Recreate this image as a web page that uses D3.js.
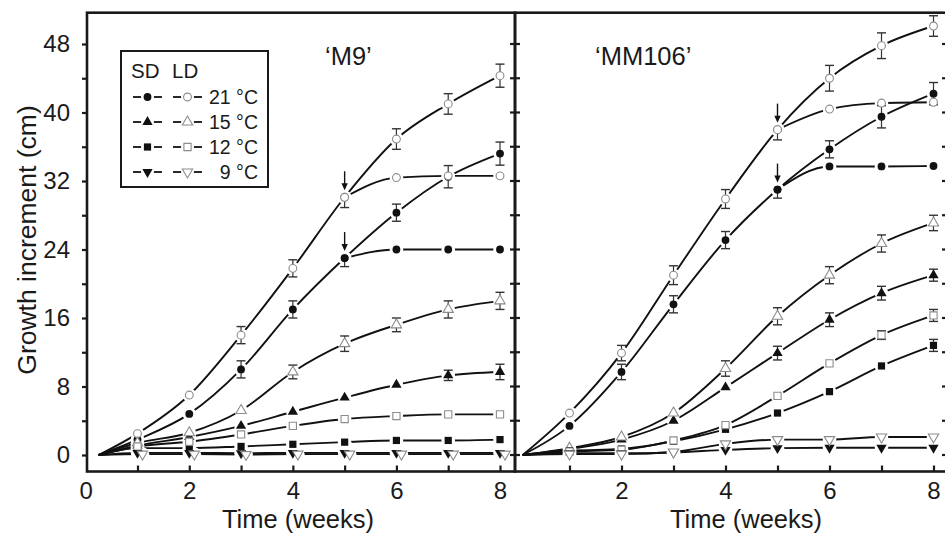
<!DOCTYPE html>
<html>
<head>
<meta charset="utf-8">
<script src="https://cdn.jsdelivr.net/npm/d3@7"></script>
<style>
body { margin: 0; background: #fff; }
svg { display: block; }
text { font-family: "Liberation Sans", Arial, Helvetica, sans-serif; fill: #1a1a1a; }
</style>
</head>
<body>
<script>
// ---- data ----
var weeks = [1, 2, 3, 4, 5, 6, 7, 8];
var transferWeeks = [5, 6, 7, 8];
var startWeeks = [0.25, 0.1];          // curves start near 0 in each panel
var yTicks = [0, 4, 8, 12, 16, 20, 24, 28, 32, 36, 40, 44, 48];
var yTickLabels = [0, 8, 16, 24, 32, 40, 48];
var xTickLabelsLeft = [0, 2, 4, 6, 8];
var xTickLabelsRight = [2, 4, 6, 8];
var temps = ["21 °C", "15 °C", "12 °C", "9 °C"];
var cultivars = ["\u2018M9\u2019", "\u2018MM106\u2019"];

// 'M9'
var m9_SD21 = [1.8, 4.8, 10.0, 17.0, 23.0, 28.3, 32.5, 35.2];
var m9_LD21 = [2.5, 7.0, 14.0, 21.8, 30.1, 36.9, 41.0, 44.3];
var m9_SD15 = [1.1, 2.1, 3.4, 5.05, 6.7, 8.2, 9.3, 9.7];
var m9_LD15 = [1.4, 2.6, 5.2, 9.7, 13.0, 15.2, 17.0, 18.0];
var m9_SD12 = [0.8, 0.8, 1.0, 1.25, 1.5, 1.7, 1.7, 1.8];
var m9_LD12 = [1.0, 1.55, 2.4, 3.4, 4.2, 4.55, 4.75, 4.75];
var m9_SD9 = [0.25, 0.25, 0.2, 0.25, 0.25, 0.25, 0.25, 0.25];
var m9_LD9 = [0.1, 0.1, 0.05, 0.1, 0.1, 0.1, 0.1, 0.1];
var m9_SD21_err = [0, 0, 1.0, 1.0, 1.0, 1.0, 1.3, 1.35];
var m9_LD21_err = [0, 0, 1.0, 1.0, 1.2, 1.2, 1.2, 1.35];
var m9_SD15_err = [0, 0, 0, 0, 0, 0, 0.6, 0.9];
var m9_LD15_err = [0, 0, 0, 0.8, 0.9, 0.8, 1.0, 1.0];
var m9_SD21_transfer = [23.0, 24.0, 24.0, 24.0];
var m9_LD21_transfer = [30.1, 32.4, 32.6, 32.6];

// 'MM106'
var mm106_SD21 = [3.4, 9.7, 17.6, 25.1, 31.0, 35.7, 39.5, 42.2];
var mm106_LD21 = [4.9, 11.9, 21.0, 29.9, 38.0, 44.0, 47.8, 50.1];
var mm106_SD15 = [0.7, 1.8, 4.0, 7.9, 11.9, 15.8, 18.9, 21.0];
var mm106_LD15 = [0.8, 2.1, 4.9, 10.1, 16.2, 21.0, 24.7, 27.1];
var mm106_SD12 = [0.5, 0.7, 1.6, 3.0, 4.9, 7.4, 10.4, 12.8];
var mm106_LD12 = [0.4, 0.6, 1.7, 3.5, 6.9, 10.7, 14.0, 16.3];
var mm106_SD9 = [0.2, 0.2, 0.3, 0.6, 0.8, 0.85, 0.85, 0.85];
var mm106_LD9 = [0.1, 0.1, 0.35, 1.3, 1.8, 1.8, 2.1, 2.1];
var mm106_SD21_err = [0, 0.9, 1.0, 1.0, 1.0, 1.0, 1.3, 1.3];
var mm106_LD21_err = [0, 0.9, 1.1, 1.1, 1.2, 1.5, 1.5, 1.2];
var mm106_SD15_err = [0, 0, 0, 0, 0.8, 0.8, 0.8, 0.7];
var mm106_LD15_err = [0, 0, 0, 0.9, 1.0, 1.0, 1.0, 0.9];
var mm106_SD12_err = [0, 0, 0, 0, 0, 0, 0, 0.7];
var mm106_LD12_err = [0, 0, 0, 0, 0, 0, 0.5, 0.7];
var mm106_SD21_transfer = [31.0, 33.7, 33.7, 33.75];
var mm106_LD21_transfer = [38.0, 40.4, 41.1, 41.2];

var none = [0, 0, 0, 0, 0, 0, 0, 0];

// ---- layout ----
var W = 945, H = 534;
var frameTop = 12.7, frameBottom = 471.5;
var axisColor = "#1a1a1a";
var openColor = "#8c8c8c";
var markColor = "#111";

var svg = d3.select("body").append("svg")
    .attr("width", W)
    .attr("height", H);

var y = d3.scaleLinear().domain([0, 48]).range([455, 44]);

var panels = [
    {
        title: cultivars[0], titleX: 325, left: 87, right: 515,
        x: d3.scaleLinear().domain([0, 8]).range([85.7, 500]),
        start: startWeeks[0], xLabels: xTickLabelsLeft, ld9dx: 5,
        sd: [m9_SD21, m9_SD15, m9_SD12, m9_SD9],
        ld: [m9_LD21, m9_LD15, m9_LD12, m9_LD9],
        sdErr: [m9_SD21_err, m9_SD15_err, none, none],
        ldErr: [m9_LD21_err, m9_LD15_err, none, none],
        sdTransfer: m9_SD21_transfer, ldTransfer: m9_LD21_transfer
    },
    {
        title: cultivars[1], titleX: 595, left: 515, right: 947,
        x: d3.scaleLinear().domain([0, 8]).range([517.5, 933.5]),
        start: startWeeks[1], xLabels: xTickLabelsRight, ld9dx: 0,
        sd: [mm106_SD21, mm106_SD15, mm106_SD12, mm106_SD9],
        ld: [mm106_LD21, mm106_LD15, mm106_LD12, mm106_LD9],
        sdErr: [mm106_SD21_err, mm106_SD15_err, mm106_SD12_err, none],
        ldErr: [mm106_LD21_err, mm106_LD15_err, mm106_LD12_err, none],
        sdTransfer: mm106_SD21_transfer, ldTransfer: mm106_LD21_transfer
    }
];

var symbols = [d3.symbolCircle, d3.symbolTriangle, d3.symbolSquare, d3.symbolTriangle];
var symbolSizes = [48, 46, 52, 46];

function drawMarker(g, t, filled, px, py) {
    var p = g.append("path")
        .attr("d", d3.symbol().type(symbols[t]).size(symbolSizes[t])())
        .attr("transform", "translate(" + px + "," + py + ")" + (t === 3 ? " rotate(180)" : ""));
    if (filled) {
        p.attr("fill", markColor);
    } else {
        p.attr("fill", "#fff").attr("stroke", openColor).attr("stroke-width", 1.1);
    }
}

function drawArrow(g, px, py) {
    g.append("line")
        .attr("x1", px).attr("x2", px)
        .attr("y1", py - 26).attr("y2", py - 12)
        .attr("stroke", markColor).attr("stroke-width", 1.4);
    g.append("path")
        .attr("d", "M" + (px - 3.2) + "," + (py - 14) + "L" + (px + 3.2) + "," + (py - 14) + "L" + px + "," + (py - 7) + "Z")
        .attr("fill", markColor);
}

var line = d3.line()
    .x(d => d.px)
    .y(d => d.py)
    .curve(d3.curveMonotoneX);

panels.forEach((p, pi) => {
    var g = svg.append("g");
    var x = p.x;

    // build point lists
    var series = [];
    for (var t = 0; t < 4; t++) {
        [["sd", true], ["ld", false]].forEach(kind => {
            var vals = p[kind[0]][t];
            var errs = p[kind[0] + "Err"][t];
            var dx = (!kind[1] && t === 3) ? p.ld9dx : 0;
            var pts = weeks.map((w, i) => ({
                px: x(w) + dx, py: y(vals[i]), v: vals[i], e: errs[i], w: w
            }));
            series.push({ t: t, filled: kind[1], pts: pts,
                start: { px: x(p.start), py: y(0) } });
            if (t === 0) {
                var tv = kind[1] ? p.sdTransfer : p.ldTransfer;
                series.push({ t: t, filled: kind[1], branch: true,
                    pts: transferWeeks.map((w, i) => ({ px: x(w), py: y(tv[i]), v: tv[i], e: 0, w: w })) });
            }
        });
    }

    // curves
    series.forEach(s => {
        var pts = s.start ? [s.start].concat(s.pts) : s.pts;
        g.append("path")
            .attr("d", line(pts))
            .attr("fill", "none")
            .attr("stroke", markColor)
            .attr("stroke-width", 1.9);
    });

    // white halos around markers
    series.forEach(s => {
        s.pts.forEach(d => {
            g.append("circle").attr("cx", d.px).attr("cy", d.py).attr("r", 6.8).attr("fill", "#fff");
        });
    });

    // error bars
    series.forEach(s => {
        if (s.branch) return;
        s.pts.forEach(d => {
            if (!d.e) return;
            var arrowHere = (s.t === 0 && d.w === transferWeeks[0]);
            var top = arrowHere ? d.py : y(d.v + d.e);
            var bot = y(d.v - d.e);
            g.append("line")
                .attr("x1", d.px).attr("x2", d.px).attr("y1", top).attr("y2", bot)
                .attr("stroke", "#333").attr("stroke-width", 1.2);
            var caps = arrowHere ? [bot] : [top, bot];
            caps.forEach(cy => {
                g.append("line")
                    .attr("x1", d.px - 4.5).attr("x2", d.px + 4.5).attr("y1", cy).attr("y2", cy)
                    .attr("stroke", "#333").attr("stroke-width", 1.4);
            });
        });
    });

    // arrows at the transfer week
    series.filter(s => s.t === 0 && !s.branch).forEach(s => {
        var d = s.pts[weeks.indexOf(transferWeeks[0])];
        drawArrow(g, d.px, d.py);
    });

    // markers
    series.forEach(s => {
        s.pts.forEach(d => drawMarker(g, s.t, s.filled, d.px, d.py));
    });

    // bottom axis ticks (inward)
    var ax = svg.append("g")
        .attr("transform", "translate(0," + frameBottom + ")")
        .call(d3.axisBottom(x).tickValues(weeks).tickSize(-6).tickFormat(""));
    ax.select(".domain").remove();
    ax.selectAll("line").attr("stroke", axisColor).attr("stroke-width", 2.2);

    var axl = svg.append("g")
        .attr("transform", "translate(0," + frameBottom + ")")
        .call(d3.axisBottom(x).tickValues(p.xLabels).tickSize(0).tickPadding(10).tickFormat(d3.format("d")));
    axl.select(".domain").remove();
    axl.selectAll("text")
        .attr("font-size", 24)
        .attr("font-family", "Liberation Sans, Arial, sans-serif")
        .attr("fill", "#1a1a1a");

    // panel title
    svg.append("text")
        .attr("x", p.titleX)
        .attr("y", 65)
        .attr("font-size", 25.5)
        .text(p.title);

    // x label
    svg.append("text")
        .attr("x", pi === 0 ? 298 : 746)
        .attr("y", 528)
        .attr("text-anchor", "middle")
        .attr("font-size", 25.5)
        .text("Time (weeks)");
});

// ---- y axes ----
var ay = svg.append("g")
    .attr("transform", "translate(87,0)")
    .call(d3.axisLeft(y).tickValues(yTicks).tickSize(5).tickPadding(12)
        .tickFormat(d => yTickLabels.indexOf(d) >= 0 ? d : ""));
ay.select(".domain").remove();
ay.selectAll("line").attr("stroke", axisColor).attr("stroke-width", 2.2);
ay.selectAll("text")
    .attr("font-size", 24)
    .attr("font-family", "Liberation Sans, Arial, sans-serif")
    .attr("fill", "#1a1a1a");

// middle axis: ticks crossing the divider
svg.append("g").selectAll("line")
    .data(yTicks)
    .join("line")
    .attr("x1", 510).attr("x2", 520)
    .attr("y1", d => y(d)).attr("y2", d => y(d))
    .attr("stroke", axisColor).attr("stroke-width", 2.2);

// right edge: inward ticks
svg.append("g").selectAll("line")
    .data(yTicks)
    .join("line")
    .attr("x1", 942).attr("x2", 947)
    .attr("y1", d => y(d)).attr("y2", d => y(d))
    .attr("stroke", axisColor).attr("stroke-width", 2.2);

// frames
[[87, 515], [515, 947]].forEach(f => {
    svg.append("rect")
        .attr("x", f[0]).attr("y", frameTop)
        .attr("width", f[1] - f[0]).attr("height", frameBottom - frameTop)
        .attr("fill", "none")
        .attr("stroke", axisColor)
        .attr("stroke-width", 2.6);
});

// y label
svg.append("text")
    .attr("transform", "translate(36,240) rotate(-90)")
    .attr("text-anchor", "middle")
    .attr("font-size", 26.5)
    .text("Growth increment (cm)");

// ---- legend ----
var lg = svg.append("g");
lg.append("rect")
    .attr("x", 121).attr("y", 51)
    .attr("width", 147).attr("height", 136)
    .attr("fill", "#fff")
    .attr("stroke", axisColor)
    .attr("stroke-width", 2);
lg.append("text").attr("x", 131).attr("y", 77.5).attr("font-size", 20.5).text("SD");
lg.append("text").attr("x", 172).attr("y", 77.5).attr("font-size", 20.5).text("LD");

temps.forEach((tname, t) => {
    var ry = 97 + t * 25;
    [[133, 162, 147.5, true], [173, 202, 187.5, false]].forEach(c => {
        lg.append("line")
            .attr("x1", c[0]).attr("x2", c[1]).attr("y1", ry).attr("y2", ry)
            .attr("stroke", markColor).attr("stroke-width", 1.8);
        lg.append("circle").attr("cx", c[2]).attr("cy", ry).attr("r", 6.5).attr("fill", "#fff");
        drawMarker(lg, t, c[3], c[2], ry);
    });
    lg.append("text")
        .attr("x", 258).attr("y", ry + 7)
        .attr("text-anchor", "end")
        .attr("font-size", 19.5)
        .text(tname);
});
</script>
</body>
</html>
